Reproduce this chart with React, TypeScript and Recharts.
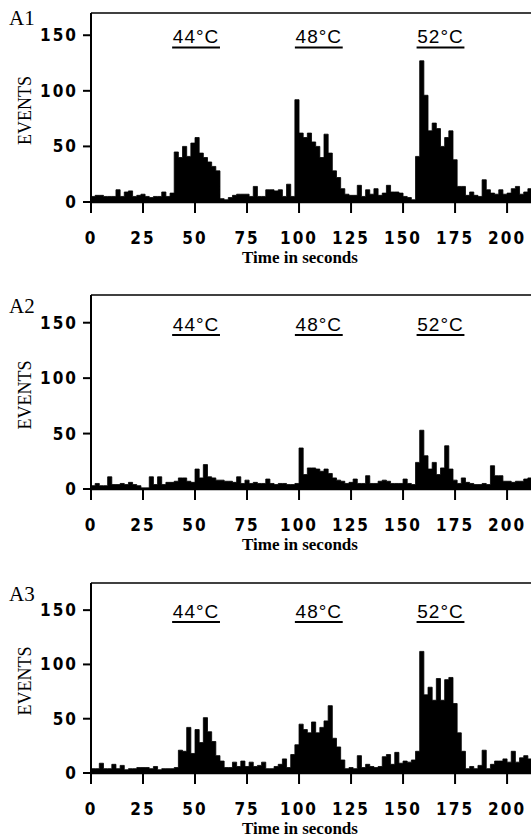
import { AreaChart, Area, XAxis, YAxis, ReferenceLine } from 'recharts';

// histogram bins, 2 s wide, starting at t = 0
const BIN_SECONDS = 2;
const TIME_TICKS = [0, 25, 50, 75, 100, 125, 150, 175, 200];
const EVENT_TICKS = [0, 50, 100, 150];
const STIMULI = ['44°C', '48°C', '52°C'];
const STIMULUS_START = [39, 98, 156.5];
const STIMULUS_END = [62, 121, 179.5];

const EVENTS_A1 = [
    5, 6, 6, 5, 5, 5, 11, 5, 9, 10, 5, 6, 7, 5, 4, 5, 5, 9, 5, 8,
    45, 40, 50, 41, 53, 58, 44, 40, 36, 32, 28, 3, 2, 4,
    6, 7, 7, 7, 5, 14, 5, 5, 11, 11, 10, 11, 5, 16, 5,
    92, 62, 58, 62, 54, 50, 40, 61, 44, 28, 22, 12,
    7, 6, 6, 15, 5, 11, 7, 12, 6, 8, 15, 9, 9, 8, 5, 4, 2,
    41, 127, 96, 64, 71, 66, 50, 58, 64, 38, 14,
    14, 6, 9, 6, 5, 20, 11, 8, 7, 11, 7, 8, 12, 14, 7, 9, 12,
];

const EVENTS_A2 = [
    3, 5, 3, 3, 11, 4, 4, 5, 4, 6, 4, 3, 1, 1, 11, 4, 11, 4, 6, 6,
    7, 10, 10, 7, 6, 18, 10, 22, 11, 10, 8, 8, 7, 7,
    6, 11, 5, 8, 5, 6, 5, 5, 9, 5, 4, 5, 5, 4, 4,
    5, 37, 13, 19, 19, 18, 16, 18, 14, 10, 8, 7,
    5, 6, 9, 5, 5, 12, 5, 5, 7, 8, 7, 5, 5, 5, 9, 5, 4,
    24, 53, 30, 18, 24, 13, 19, 39, 18, 8, 5,
    10, 6, 5, 4, 4, 5, 4, 21, 12, 12, 7, 7, 6, 7, 7, 9, 10,
];

const EVENTS_A3 = [
    4, 4, 9, 4, 4, 8, 4, 7, 3, 4, 4, 5, 5, 5, 4, 6, 3, 4, 4, 4,
    5, 21, 20, 42, 18, 40, 28, 51, 38, 29, 16, 11, 5, 5,
    10, 6, 11, 6, 10, 6, 7, 10, 4, 4, 6, 8, 13, 5, 17,
    26, 45, 40, 37, 47, 37, 42, 48, 62, 32, 24, 12,
    4, 5, 4, 16, 5, 8, 6, 5, 6, 15, 17, 8, 19, 9, 11, 10, 12,
    20, 112, 72, 79, 67, 87, 67, 86, 88, 64, 37,
    20, 4, 6, 4, 7, 21, 4, 8, 11, 11, 13, 10, 20, 10, 14, 16, 13,
];

const TICK_FONT = "'DejaVu Sans', 'Liberation Sans', Arial, sans-serif";
const SANS = "'Liberation Sans', Arial, sans-serif";
const SERIF = "'Liberation Serif', 'Times New Roman', serif";

const panels = [
    { tag: 'A1', values: EVENTS_A1, plotTop: 13, plotHeight: 189, yMax: 170, tagDy: 12 },
    { tag: 'A2', values: EVENTS_A2, plotTop: 295, plotHeight: 194, yMax: 175, tagDy: 18 },
    { tag: 'A3', values: EVENTS_A3, plotTop: 583, plotHeight: 190, yMax: 175, tagDy: 18 },
];

function toBins(values: number[]) {
    const rows = values.map((v, i) => ({ t: i * BIN_SECONDS, events: v }));
    // close the last step at its right edge
    rows.push({ t: values.length * BIN_SECONDS, events: values[values.length - 1] });
    return rows;
}

function SideTitle({ viewBox, tag, tagDy }: any) {
    const { y, height } = viewBox;
    return (
        <g>
            <text x={9} y={y + tagDy} fontFamily={SERIF} fontSize={21} fill="#000">{tag}</text>
            <text
                transform={`translate(25, ${y + height / 2 + 3}) rotate(-90)`}
                textAnchor="middle"
                dominantBaseline="central"
                fontFamily={SERIF}
                fontSize={18}
                fill="#000"
            >
                EVENTS
            </text>
        </g>
    );
}

function TimeTitle({ viewBox }: any) {
    const { x, y } = viewBox;
    return (
        <text x={x + 209} y={y + 61} textAnchor="middle" fontFamily={SERIF} fontWeight="bold" fontSize={17} fill="#000">
            Time in seconds
        </text>
    );
}

function Panel({ tag, values, plotTop, plotHeight, yMax, tagDy }: typeof panels[number]) {
    const data = toBins(values);
    const tickStyle = {
        fill: '#000',
        fontFamily: TICK_FONT,
        fontWeight: 700,
        fontSize: 17,
        letterSpacing: 2,
        style: { fontStretch: 'condensed' },
    };
    return (
        <div style={{ position: 'absolute', left: 0, top: plotTop - 10 }}>
            <AreaChart width={531} height={10 + plotHeight + 64} data={data} margin={{ top: 10, right: 0, bottom: 0, left: 0 }}>
                <XAxis
                    type="number"
                    dataKey="t"
                    domain={[0, 211.5]}
                    ticks={TIME_TICKS}
                    interval={0}
                    allowDataOverflow
                    height={64}
                    tickSize={11}
                    tickMargin={19}
                    tick={tickStyle}
                    tickLine={{ stroke: '#000', strokeWidth: 2 }}
                    axisLine={{ stroke: '#000', strokeWidth: 2.5 }}
                    label={<TimeTitle />}
                />
                <YAxis
                    domain={[0, yMax]}
                    ticks={EVENT_TICKS}
                    interval={0}
                    allowDataOverflow
                    width={91}
                    tickSize={8}
                    tickMargin={5}
                    tick={tickStyle}
                    tickLine={{ stroke: '#000', strokeWidth: 2 }}
                    axisLine={{ stroke: '#000', strokeWidth: 2 }}
                    label={<SideTitle tag={tag} tagDy={tagDy} />}
                />
                <ReferenceLine y={yMax} stroke="#000" strokeWidth={1.5} ifOverflow="visible" />
                {STIMULI.map((s, i) => (
                    <ReferenceLine
                        key={s}
                        segment={[{ x: STIMULUS_START[i], y: 139 }, { x: STIMULUS_END[i], y: 139 }]}
                        stroke="#000"
                        strokeWidth={2}
                        label={{ value: s, position: 'top', offset: 4, fill: '#000', fontSize: 19, fontFamily: SANS, letterSpacing: 1 }}
                    />
                ))}
                <Area
                    type="stepAfter"
                    dataKey="events"
                    stroke="#000"
                    strokeWidth={0.8}
                    fill="#000"
                    fillOpacity={1}
                    dot={false}
                    activeDot={false}
                    isAnimationActive={false}
                />
            </AreaChart>
        </div>
    );
}

export default function App() {
    return (
        <div style={{ position: 'absolute', left: 0, top: 0, width: 531, height: 839, overflow: 'hidden', background: '#fff' }}>
            {panels.map((p) => (
                <Panel key={p.tag} {...p} />
            ))}
        </div>
    );
}
